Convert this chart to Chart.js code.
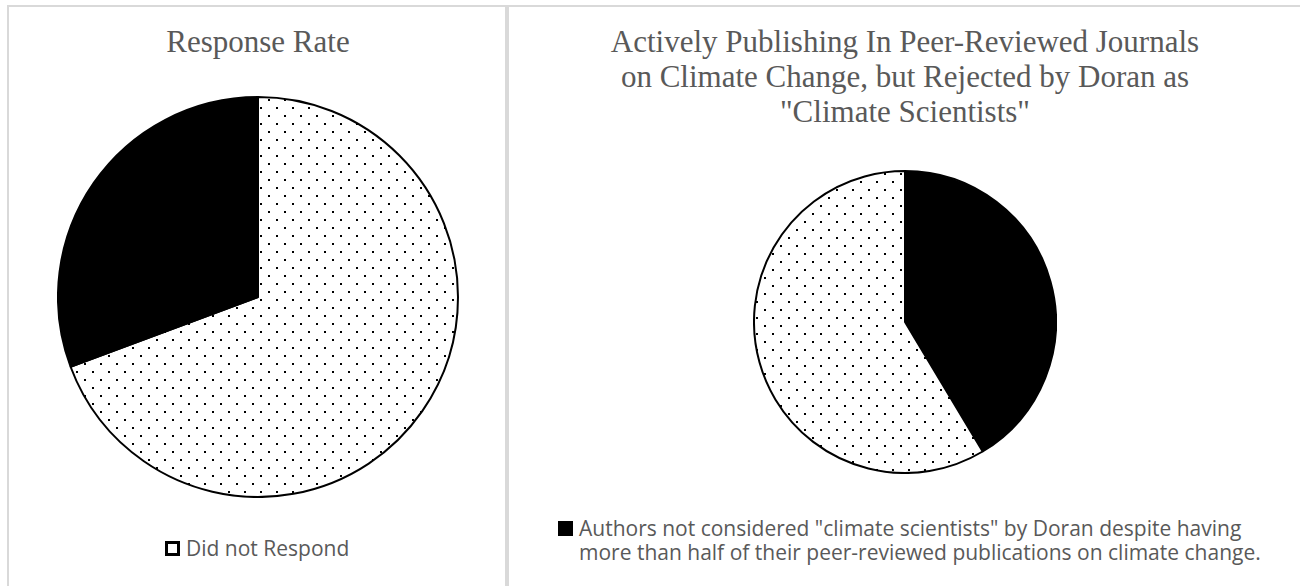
<!DOCTYPE html>
<html lang="en">
<head>
    <meta charset="UTF-8">
    <title>Doran survey pies</title>
    <script src="https://cdn.jsdelivr.net/npm/chart.js"></script>
    <style>
        body {
            margin: 0;
            width: 1300px;
            height: 586px;
            overflow: hidden;
            background: #fff;
            position: relative;
        }
        .panel {
            position: absolute;
            border-top: 2px solid #d9d9d9;
            border-left: 2px solid #d9d9d9;
            box-sizing: border-box;
        }
        #leftPanel { left: 7px; top: 5px; width: 500px; height: 600px; border-right: 2px solid #d9d9d9; }
        #rightPanel { left: 507px; top: 5px; width: 820px; height: 600px; }
        .title {
            position: absolute;
            font-family: "Liberation Serif", serif;
            font-size: 31px;
            line-height: 35px;
            color: #595959;
            text-align: center;
            white-space: nowrap;
        }
        canvas { position: absolute; }
        .legend {
            position: absolute;
            font-family: "Open Sans", sans-serif;
            font-size: 21px;
            line-height: 24px;
            color: #595959;
            display: flex;
            align-items: flex-start;
            white-space: nowrap;
        }
        .legend .box {
            flex: none;
            width: 15px;
            height: 15px;
            margin-top: 5px;
            margin-right: 6px;
            box-sizing: border-box;
            border: 3px solid #000;
        }
    </style>
</head>
<body>
    <div class="panel" id="leftPanel"></div>
    <div class="panel" id="rightPanel"></div>

    <div class="title" id="leftTitle" style="left:8px; width:500px; top:24px;"></div>
    <div class="title" id="rightTitle" style="left:508px; width:794px; top:24px;"></div>

    <canvas id="leftPie" width="402" height="402" style="left:57px; top:96px;"></canvas>
    <canvas id="rightPie" width="304" height="304" style="left:753px; top:170px;"></canvas>

    <div class="legend" id="leftLegend" style="left:165px; top:536px;"></div>
    <div class="legend" id="rightLegend" style="left:558px; top:516px; width:740px;"></div>

    <script>
        // left chart: survey response (contacted 10257, responded 3146)
        const leftTitle = ['Response Rate'];
        const leftLabels = ['Did not Respond', 'Responded'];
        const leftValues = [7111, 3146];

        // right chart: share of actively publishing authors
        const rightTitle = [
            'Actively Publishing In Peer-Reviewed Journals',
            'on Climate Change, but Rejected by Doran as',
            '"Climate Scientists"'
        ];
        const rightLabels = [
            'Authors not considered "climate scientists" by Doran despite having more than half of their peer-reviewed publications on climate change.',
            'Others'
        ];
        const rightValues = [41.4, 58.6];

        document.getElementById('leftTitle').innerHTML = leftTitle.join('<br>');
        document.getElementById('rightTitle').innerHTML = rightTitle.join('<br>');

        // dotted fill like the office "5%" pattern
        function dotPattern(ctx) {
            const tile = document.createElement('canvas');
            tile.width = 16;
            tile.height = 16;
            const t = tile.getContext('2d');
            t.fillStyle = '#fff';
            t.fillRect(0, 0, 16, 16);
            t.fillStyle = '#000';
            t.fillRect(3, 3, 2, 2);
            t.fillRect(11, 11, 2, 2);
            return ctx.createPattern(tile, 'repeat');
        }

        function makePie(id, labels, values, fills) {
            const ctx = document.getElementById(id).getContext('2d');
            return new Chart(ctx, {
                type: 'pie',
                data: {
                    labels: labels,
                    datasets: [{
                        data: values,
                        backgroundColor: fills(ctx),
                        borderColor: '#000',
                        borderWidth: 2
                    }]
                },
                options: {
                    responsive: false,
                    animation: false,
                    layout: { padding: 0 },
                    plugins: {
                        legend: { display: false },
                        tooltip: { enabled: false },
                        title: { display: false }
                    }
                }
            });
        }

        makePie('leftPie', leftLabels, leftValues, ctx => [dotPattern(ctx), '#000']);
        makePie('rightPie', rightLabels, rightValues, ctx => ['#000', dotPattern(ctx)]);

        // legends: only the first entry of each chart is shown in the original
        document.getElementById('leftLegend').innerHTML =
            `<span class="box" style="background:#fff"></span><span>${leftLabels[0]}</span>`;
        document.getElementById('rightLegend').innerHTML =
            `<span class="box" style="background:#000"></span><span>${rightLabels[0].replace('having ', 'having<br>')}</span>`;
    </script>
</body>
</html>
